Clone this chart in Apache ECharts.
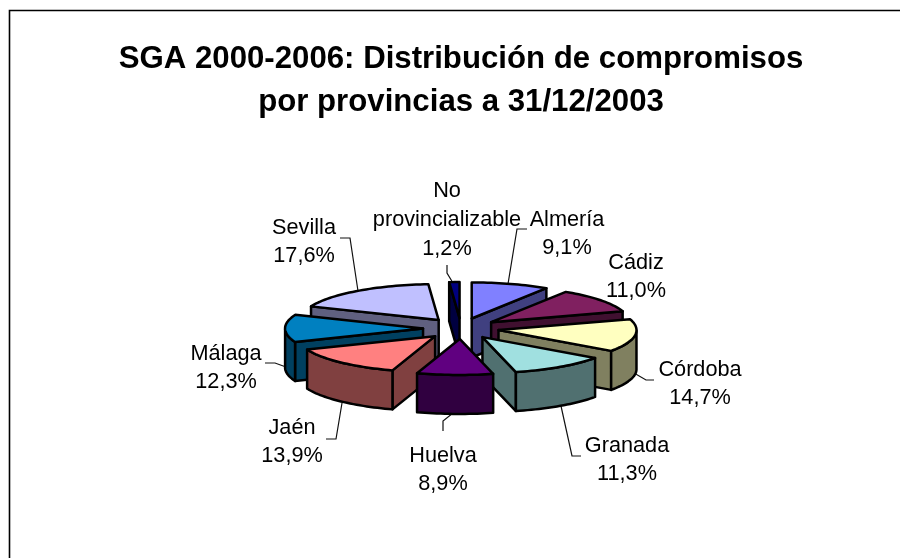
<!DOCTYPE html>
<html>
<head>
<meta charset="utf-8">
<style>html,body{margin:0;padding:0;background:#fff}#c{width:900px;height:559px}</style>
<script src="https://cdn.jsdelivr.net/npm/echarts@6/dist/echarts.min.js"></script>
</head>
<body>
<div id="c"></div>
<script>
const categories = ['Almería','Cádiz','Córdoba','Granada','Huelva','Jaén','Málaga','Sevilla','No\nprovincializable'];
const shares = [9.1,11.0,14.7,11.3,8.9,13.9,12.3,17.6,1.2];
const topColors = ['#8080FF','#802060','#FFFFC0','#A0E0E0','#600080','#FF8080','#0080C0','#C0C0FF','#000080'];
const sideColors = ['#404080','#401030','#808060','#507070','#300040','#804040','#004060','#606080','#000040'];
const titleText = 'SGA 2000-2006: Distribución de compromisos\npor provincias a 31/12/2003';

// Layout of the pseudo-3D pie (not data)
const pie = {cx:461, cy:328.5, rx:138, ry:36, explodeX:0.275, explodeY:0.29, depth:39};
const labelAt = [[567,234],[636,277],[700,384],[627,460],[443,470],[292,442],[226,368],[304,242],[447,220]];
const leaders = [
  [[508,284],[517,229],[527,229]],
  null,
  [[634,373],[646,380],[654,380]],
  [[561,406],[572,456],[581,456]],
  [[453,413],[443,421],[443,431]],
  [[342,403],[336,439],[326,439]],
  [[286,367],[275,363],[265,363]],
  [[358,291],[350,238],[340,238]],
  [[453,283],[447,273],[447,265]]
];

const total = shares.reduce((a,b)=>a+b,0);
const starts = []; shares.reduce((acc,v,i)=>{starts[i]=acc; return acc+v;},0);
const toAngle = v => v/total*Math.PI*2;
const depthKey = i => -Math.cos(toAngle(starts[i]+shares[i]/2));
const order = shares.map((_,i)=>i).sort((a,b)=>depthKey(a)-depthKey(b));

function renderSlice(params, api){
  const i = api.value(0);
  const a0 = toAngle(starts[i]), a1 = toAngle(starts[i]+shares[i]), mid=(a0+a1)/2;
  const ax = pie.cx + pie.rx*pie.explodeX*Math.sin(mid);
  const ay = pie.cy - pie.ry*pie.explodeY*Math.cos(mid);
  const pt = t => [ax+pie.rx*Math.sin(t), ay-pie.ry*Math.cos(t)];
  const steps = Math.max(4, Math.ceil((a1-a0)/0.03));
  const arc = [];
  for(let k=0;k<=steps;k++) arc.push(a0+(a1-a0)*k/steps);
  const outline = [[ax,ay]].concat(arc.map(pt));
  const down = p => [p[0],p[1]+pie.depth];
  const sideStyle = {fill:sideColors[i],stroke:'#000',lineWidth:2.5,lineJoin:'round'};
  const children = [];
  const wall = pts => children.push({type:'polygon',shape:{points:pts.concat(pts.slice().reverse().map(down))},style:sideStyle});
  const p0 = pt(a0), p1 = pt(a1);
  if(p0[0] < ax) wall([[ax,ay],p0]);
  if(ax < p1[0]) wall([p1,[ax,ay]]);
  const front = arc.filter(t=>Math.cos(t)<=0);
  if(front.length>1) wall(front.map(pt));
  children.push({type:'polygon',shape:{points:outline},style:{fill:topColors[i],stroke:'#000',lineWidth:2.5,lineJoin:'round'}});
  return {type:'group',children};
}

const graphics = [
  {type:'polyline',shape:{points:[[9.5,558],[9.5,10.5],[900,10.5]]},style:{fill:null,stroke:'#000',lineWidth:1.6},silent:true}
];
leaders.forEach(l=>{ if(l) graphics.push({type:'polyline',shape:{points:l},style:{fill:null,stroke:'#111',lineWidth:1.2},silent:true}); });
categories.forEach((c,i)=>{
  graphics.push({type:'text',x:labelAt[i][0],y:labelAt[i][1],style:{
    text:c+'\n'+shares[i].toFixed(1).replace('.',',')+'%',
    fontFamily:'"Liberation Sans",Arial,sans-serif',fontSize:21.7,lineHeight:28.7,
    fill:'#000',align:'center',verticalAlign:'middle'}});
});

const chart = echarts.init(document.getElementById('c'),null,{renderer:'canvas'});
chart.setOption({
  animation:false,
  backgroundColor:'#fff',
  title:{text:titleText,left:456,top:33,textAlign:'center',
    textStyle:{fontFamily:'"Liberation Sans",Arial,sans-serif',fontWeight:'bold',fontSize:31.2,lineHeight:43,color:'#000'}},
  graphic:graphics,
  series:[{type:'custom',coordinateSystem:'none',renderItem:renderSlice,data:order.map(i=>[i]),silent:true}]
});
</script>
</body>
</html>
